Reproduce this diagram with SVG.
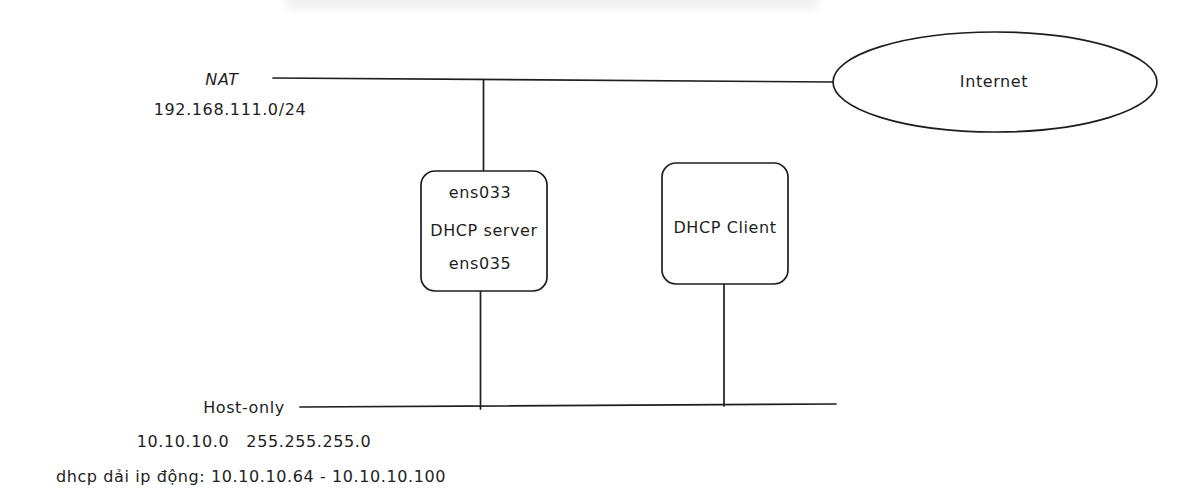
<svg xmlns="http://www.w3.org/2000/svg" width="1195" height="504" viewBox="0 0 1195 504">
<style>
.t{font-family:"DejaVu Sans","Liberation Sans",sans-serif;font-size:16px;fill:#1e1e1e;letter-spacing:0.6px}
.c{text-anchor:middle}
.ln{stroke:#1e1e1e;stroke-width:1.7;fill:none;stroke-linecap:round}
.box{stroke:#1e1e1e;stroke-width:1.7;fill:#fff}
</style>
<defs>
<filter id="sh" x="-10%" y="-200%" width="120%" height="500%"><feGaussianBlur stdDeviation="5"/></filter>
</defs>
<rect width="1195" height="504" fill="#fff"/>
<rect x="285" y="-20" width="535" height="30" rx="10" fill="#000" opacity="0.05" filter="url(#sh)"/>
<g id="connectors">
<line class="ln" x1="273" y1="78" x2="833" y2="82"/>
<line class="ln" x1="483.5" y1="80" x2="483.5" y2="171"/>
<line class="ln" x1="300" y1="407" x2="836" y2="404"/>
<line class="ln" x1="480.5" y1="291" x2="480.5" y2="409"/>
<line class="ln" x1="724" y1="284" x2="724" y2="406"/>
</g>
<g id="internet">
<ellipse cx="995" cy="82" rx="162" ry="50" class="box"/>
<text class="t c" x="994" y="87">Internet</text>
</g>
<g id="dhcp-server">
<rect x="421" y="171" width="126" height="120" rx="14" class="box"/>
<text class="t c" x="480" y="198">ens033</text>
<text class="t c" x="484" y="236">DHCP server</text>
<text class="t c" x="480" y="269">ens035</text>
</g>
<g id="dhcp-client">
<rect x="662" y="163" width="126" height="121" rx="14" class="box"/>
<text class="t c" x="725" y="233">DHCP Client</text>
</g>
<g id="nat-label">
<text class="t c" x="222" y="85" font-style="italic">NAT</text>
<text class="t c" x="230" y="115">192.168.111.0/24</text>
</g>
<g id="host-only-label">
<text class="t c" x="244" y="413">Host-only</text>
<text class="t c" x="254" y="447" xml:space="preserve">10.10.10.0   255.255.255.0</text>
<text class="t c" x="251" y="482">dhcp dải ip động: 10.10.10.64 - 10.10.10.100</text>
</g>
</svg>
